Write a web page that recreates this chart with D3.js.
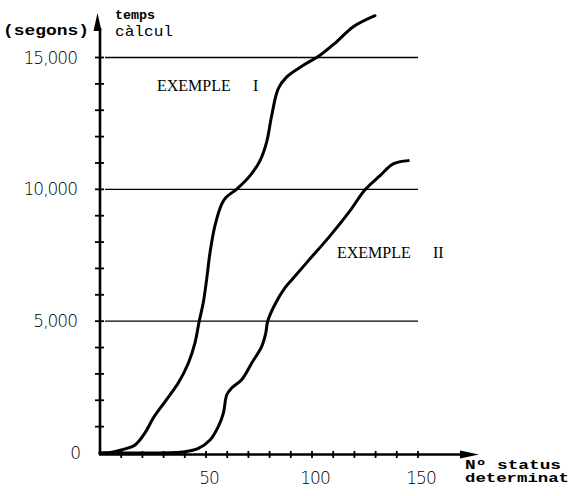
<!DOCTYPE html>
<html>
<head>
  <meta charset="utf-8">
  <script src="https://cdn.jsdelivr.net/npm/d3@7"></script>
  <style>
    body { margin: 0; background: #fff; }
    svg { display: block; }
    .num { font-family: 'DejaVu Sans', sans-serif; font-weight: 200; font-size: 17px; letter-spacing: -1px; fill: #000; }
    .ex { font-family: 'Liberation Serif', serif; font-size: 16px; }
    .mono { font-family: 'Liberation Mono', monospace; }
  </style>
</head>
<body>
<script>
// data (x = Nº status determinat, y = segons)
var curve1X = [0, 5, 10, 16.5, 21.2, 25.1, 30.7, 36.9, 41.7, 44.8, 46.8, 48.7, 50.3, 51.9, 54.2, 57.4, 59.5, 64.5, 70.8, 75.5, 78.6, 81, 84.1, 88.1, 95.9, 103.8, 111.6, 119.5, 129.7];
var curve1Y = [0, 20, 114, 305, 761, 1321, 1953, 2653, 3414, 4175, 4998, 5699, 6586, 7602, 8614, 9440, 9700, 10011, 10518, 11089, 11789, 12802, 13818, 14264, 14705, 15085, 15596, 16167, 16585];

var curve2X = [0, 20, 40, 46.4, 51.9, 55.8, 58.2, 59.8, 62.1, 66.8, 71.6, 76.3, 78.2, 79.1, 82.5, 87.3, 90.4, 97.5, 108.5, 117.9, 125, 132.1, 138.3, 145.4];
var curve2Y = [0, 0, 50, 178, 495, 1001, 1511, 2208, 2463, 2779, 3415, 4047, 4556, 4998, 5634, 6270, 6560, 7221, 8235, 9185, 9985, 10518, 10963, 11089];

var gridValues = [5000, 10000, 15000];
var yTickValues = d3.range(1000, 16000, 1000);
var xTickValues = d3.range(10, 160, 10);
var yLabels = ["0", "5,000", "10,000", "15,000"];
var yLabelValues = [0, 5000, 10000, 15000];
var xLabels = ["50", "100", "150"];
var xLabelValues = [50, 100, 150];

var W = 571, H = 496;
var svg = d3.select("body").append("svg").attr("width", W).attr("height", H);

var x = d3.scaleLinear().domain([0, 150]).range([100, 418]);
var y = d3.scaleLinear().domain([0, 15000]).range([453, 57.5]);

//gridlines
svg.selectAll(".grid").data(gridValues).enter().append("line")
  .attr("x1", 105).attr("x2", x(150))
  .attr("y1", function(d) { return y(d); }).attr("y2", function(d) { return y(d); })
  .attr("stroke", "#000").attr("stroke-width", 1.3);

//axes
svg.append("line").attr("x1", x(0)).attr("x2", x(0)).attr("y1", y(0) + 2).attr("y2", 28)
  .attr("stroke", "#000").attr("stroke-width", 2.6);
svg.append("path").attr("d", "M" + (x(0) - 2.5) + ",13 L" + (x(0) + 1.5) + ",31 L" + (x(0) - 6.5) + ",31 Z")
  .attr("fill", "#000");
svg.append("line").attr("x1", x(0) - 1).attr("x2", 462).attr("y1", y(0) + 1.5).attr("y2", y(0) + 1.5)
  .attr("stroke", "#000").attr("stroke-width", 2.6);
svg.append("path").attr("d", "M479," + (y(0) + 1.5) + " L460," + (y(0) - 2.5) + " L460," + (y(0) + 5.5) + " Z")
  .attr("fill", "#000");

//ticks
svg.selectAll(".yt").data(yTickValues).enter().append("line")
  .attr("x1", x(0) - 5).attr("x2", x(0) + 4)
  .attr("y1", function(d) { return y(d); }).attr("y2", function(d) { return y(d); })
  .attr("stroke", "#000").attr("stroke-width", 1.8);
svg.selectAll(".xt").data(xTickValues).enter().append("line")
  .attr("x1", function(d) { return x(d); }).attr("x2", function(d) { return x(d); })
  .attr("y1", y(0) - 2).attr("y2", y(0) + 5)
  .attr("stroke", "#000").attr("stroke-width", 1.8);

//tick labels
svg.selectAll(".yl").data(yLabelValues).enter().append("text")
  .attr("class", "num")
  .attr("x", function(d) { return d === 0 ? 80 : 77; })
  .attr("y", function(d) { return y(d) + 1; })
  .attr("text-anchor", "end").attr("dominant-baseline", "middle")
  .text(function(d, i) { return yLabels[i]; });
svg.selectAll(".xl").data(xLabelValues).enter().append("text")
  .attr("class", "num")
  .attr("x", function(d) { return x(d) + 3; })
  .attr("y", 479)
  .attr("text-anchor", "middle").attr("dominant-baseline", "middle")
  .text(function(d, i) { return xLabels[i]; });

//curves
var line = d3.line()
  .x(function(d) { return x(d[0]); })
  .y(function(d) { return y(d[1]); })
  .curve(d3.curveCatmullRom.alpha(0.5));

[[curve1X, curve1Y], [curve2X, curve2Y]].forEach(function(c) {
  svg.append("path")
    .datum(d3.zip(c[0], c[1]))
    .attr("d", line)
    .attr("fill", "none").attr("stroke", "#000").attr("stroke-width", 3)
    .attr("stroke-linecap", "round").attr("stroke-linejoin", "round");
});

//titles
svg.append("text").attr("class", "mono").attr("x", 3).attr("y", 35)
  .attr("font-size", 15).attr("font-weight", "bold")
  .attr("textLength", 86).attr("lengthAdjust", "spacingAndGlyphs")
  .text("(segons)");
svg.append("text").attr("class", "mono").attr("x", 115).attr("y", 19)
  .attr("font-size", 13).attr("font-weight", "bold")
  .attr("textLength", 40).attr("lengthAdjust", "spacingAndGlyphs")
  .text("temps");
svg.append("text").attr("class", "mono").attr("x", 115).attr("y", 36)
  .attr("font-size", 15)
  .attr("textLength", 58).attr("lengthAdjust", "spacingAndGlyphs")
  .text("càlcul");

svg.append("text").attr("class", "ex").attr("x", 157).attr("y", 91).text("EXEMPLE");
svg.append("text").attr("class", "ex").attr("x", 253).attr("y", 91).text("I");
svg.append("text").attr("class", "ex").attr("x", 337).attr("y", 258).text("EXEMPLE");
svg.append("text").attr("class", "ex").attr("x", 433).attr("y", 258).text("II");

svg.append("text").attr("class", "mono").attr("x", 465).attr("y", 469)
  .attr("font-size", 12).attr("font-weight", "bold")
  .attr("textLength", 96).attr("lengthAdjust", "spacingAndGlyphs")
  .text("Nº status");
svg.append("text").attr("class", "mono").attr("x", 465).attr("y", 482)
  .attr("font-size", 12).attr("font-weight", "bold")
  .attr("textLength", 104).attr("lengthAdjust", "spacingAndGlyphs")
  .text("determinat");
</script>
</body>
</html>
